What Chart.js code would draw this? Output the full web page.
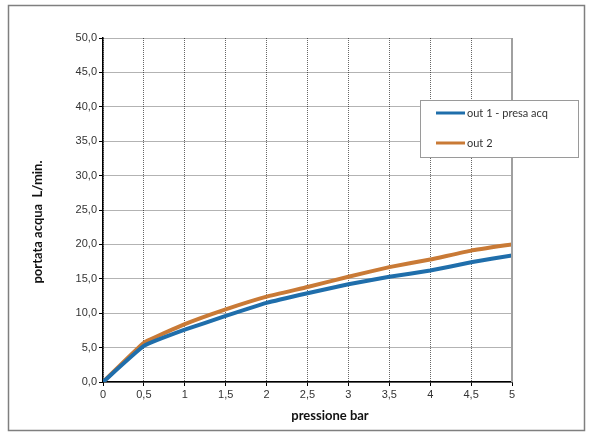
<!DOCTYPE html>
<html>
<head>
<meta charset="utf-8">
<script src="https://cdn.jsdelivr.net/npm/chart.js@4"></script>
<style>
  body { margin: 0; background: #fff; }
  canvas { display: block; }
</style>
</head>
<body>
<canvas id="myChart" width="592" height="437"></canvas>
<script>
// pressione (bar) and portata (L/min)
const pressures = [0, 0.5, 1, 1.5, 2, 2.5, 3, 3.5, 4, 4.5, 5];
const out1 = [0, 5.25, 7.6, 9.6, 11.5, 12.9, 14.2, 15.3, 16.2, 17.4, 18.4];
const out2 = [0, 5.7, 8.4, 10.55, 12.4, 13.8, 15.3, 16.7, 17.8, 19.1, 20.0];
const seriesNames = ['out 1 - presa acq', 'out 2'];
const seriesColors = ['#1f6eab', '#c97a36'];
const xTitle = 'pressione bar';
const yTitle = 'portata acqua  L/min.';

const toPoints = vals => pressures.map((p, i) => ({ x: p, y: vals[i] }));
const comma = s => s.replace('.', ',');

// frame, right edge, legend box and axis titles
const decorations = {
    id: 'decorations',
    beforeDraw(chart) {
        const c = chart.ctx;
        c.save();
        c.strokeStyle = '#7f7f7f';
        c.lineWidth = 1.5;
        c.strokeRect(8.5, 5.5, 576, 425);
        c.restore();
    },
    afterDatasetsDraw(chart) {
        const c = chart.ctx;
        const a = chart.chartArea;
        c.save();
        // right edge of plot
        c.strokeStyle = '#a0a0a0';
        c.lineWidth = 2;
        c.beginPath();
        c.moveTo(a.right, a.top);
        c.lineTo(a.right, a.bottom);
        c.stroke();

        // legend
        c.fillStyle = '#fff';
        c.fillRect(420.5, 100.5, 158, 57);
        c.strokeStyle = '#9a9a9a';
        c.lineWidth = 1;
        c.strokeRect(420.5, 100.5, 158, 57);
        const rows = [113, 143];
        c.font = '11px Lato, sans-serif';
        c.textBaseline = 'middle';
        seriesNames.forEach((name, i) => {
            c.strokeStyle = seriesColors[i];
            c.lineWidth = 3;
            c.beginPath();
            c.moveTo(436, rows[i]);
            c.lineTo(465, rows[i]);
            c.stroke();
            c.fillStyle = '#333';
            c.fillText(name, 467, rows[i]);
        });

        // axis titles
        c.fillStyle = '#111';
        c.font = 'bold 13px Lato, sans-serif';
        c.textAlign = 'center';
        c.fillText(xTitle, 330, 416);
        c.translate(38, 222);
        c.rotate(-Math.PI / 2);
        c.fillText(yTitle, 0, 0);
        c.restore();
    }
};

const gridStyle = {
    color: 'rgba(0,0,0,0.6)',
    lineWidth: 1,
    tickColor: '#000',
    tickLength: 4,
    tickBorderDash: []
};
const borderStyle = { display: true, color: '#000', width: 1.5, dash: [1, 1] };

const ctx = document.getElementById('myChart').getContext('2d');
const myChart = new Chart(ctx, {
    type: 'line',
    data: {
        datasets: [{
            label: seriesNames[0],
            data: toPoints(out1),
            borderColor: seriesColors[0],
            borderWidth: 4,
            pointRadius: 0,
            tension: 0.1
        }, {
            label: seriesNames[1],
            data: toPoints(out2),
            borderColor: seriesColors[1],
            borderWidth: 4,
            pointRadius: 0,
            tension: 0.1
        }]
    },
    options: {
        responsive: false,
        animation: false,
        layout: { padding: { top: 38, right: 80, left: 0, bottom: 0 } },
        plugins: {
            legend: { display: false },
            tooltip: { enabled: false }
        },
        scales: {
            x: {
                type: 'linear',
                min: 0,
                max: 5,
                afterFit(scale) { scale.height = 55; },
                afterBuildTicks(scale) {
                    scale.ticks = pressures.map(v => ({ value: v }));
                },
                ticks: {
                    padding: 2,
                    color: '#333',
                    font: { family: 'Liberation Sans', size: 11 },
                    callback: v => comma(String(v))
                },
                grid: gridStyle,
                border: borderStyle
            },
            y: {
                min: 0,
                max: 50,
                afterFit(scale) { scale.width = 103; },
                ticks: {
                    stepSize: 5,
                    padding: 2,
                    color: '#333',
                    font: { family: 'Liberation Sans', size: 11 },
                    callback: v => comma(v.toFixed(1))
                },
                grid: gridStyle,
                border: borderStyle
            }
        }
    },
    plugins: [decorations]
});
</script>
</body>
</html>
